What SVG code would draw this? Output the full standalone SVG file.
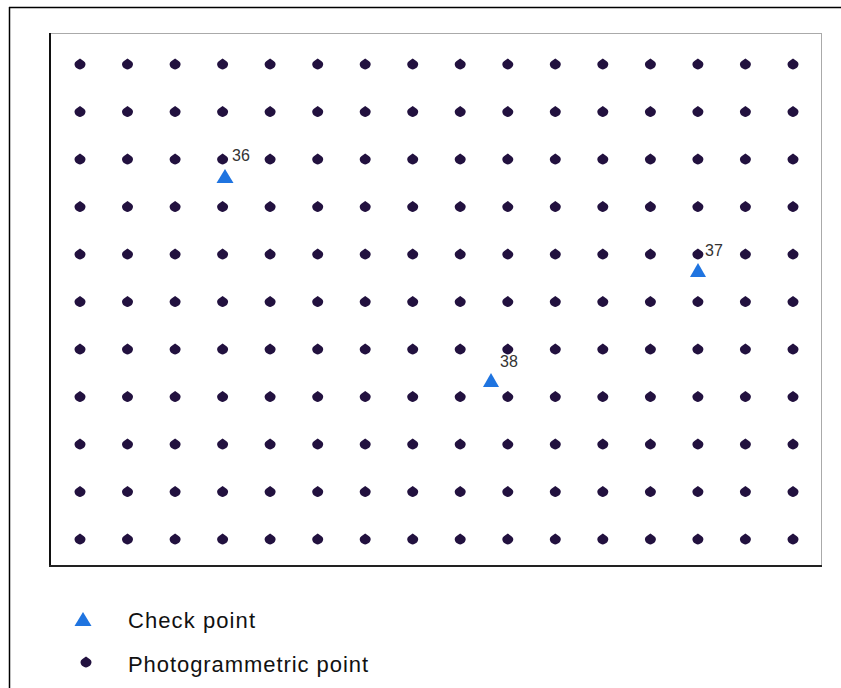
<svg xmlns="http://www.w3.org/2000/svg" width="841" height="688" viewBox="0 0 841 688">
<defs>
<style>
.dot{fill:#22113f}
.tri{fill:#1f74e0}
.lbl{font-family:"Liberation Sans",Arial,sans-serif;font-size:16px;fill:#333}
.leg{font-family:"Liberation Sans",Arial,sans-serif;font-size:22px;fill:#111}
</style>
<path id="d" d="M0,-5.5 C3,-3.5 5.5,-2 5.5,0 C5.5,3 3,5 0,5.5 C-3,5 -5.5,3 -5.5,0 C-5.5,-2 -3,-3.5 0,-5.5Z" class="dot"/>
<g id="row">
<use href="#d" x="80"/><use href="#d" x="127.5"/><use href="#d" x="175.1"/><use href="#d" x="222.6"/>
<use href="#d" x="270.1"/><use href="#d" x="317.7"/><use href="#d" x="365.2"/><use href="#d" x="412.7"/>
<use href="#d" x="460.2"/><use href="#d" x="507.8"/><use href="#d" x="555.3"/><use href="#d" x="602.8"/>
<use href="#d" x="650.4"/><use href="#d" x="697.9"/><use href="#d" x="745.4"/><use href="#d" x="793"/>
</g>
</defs>
<rect width="841" height="688" fill="#fff"/>
<g id="frame">
<line x1="9" y1="7.5" x2="841" y2="7.5" stroke="#000" stroke-width="1.5"/>
<line x1="9.5" y1="7" x2="9.5" y2="688" stroke="#000" stroke-width="1.5"/>
</g>
<g id="plot">
<rect x="49.5" y="33.5" width="772" height="532" fill="#fff" stroke="#aaa" stroke-width="1"/>
<line x1="50" y1="33" x2="50" y2="567" stroke="#111" stroke-width="2"/>
<line x1="49" y1="566" x2="822" y2="566" stroke="#222" stroke-width="2"/>
</g>
<g id="points">
<use href="#row" y="64"/><use href="#row" y="111.5"/><use href="#row" y="159"/><use href="#row" y="206.5"/>
<use href="#row" y="254"/><use href="#row" y="301.5"/><use href="#row" y="349"/><use href="#row" y="396.5"/>
<use href="#row" y="444"/><use href="#row" y="491.5"/><use href="#row" y="539"/>
</g>
<g id="checkpoints">
<g id="cp36"><polygon class="tri" points="225,169 233.5,183 216.5,183"/><text class="lbl" x="232" y="161">36</text></g>
<g id="cp37"><polygon class="tri" points="698,263 706,277 690,277"/><text class="lbl" x="705" y="256">37</text></g>
<g id="cp38"><polygon class="tri" points="491,373 499,387 483,387"/><text class="lbl" x="500" y="367">38</text></g>
</g>
<g id="connectors"/>
<g id="legend">
<g id="leg-check"><polygon class="tri" points="83,612 91.5,626 74.5,626"/><text class="leg" x="128" y="628" textLength="127">Check point</text></g>
<g id="leg-photo"><path class="dot" d="M86,656.5 C89,658.5 91.5,660 91.5,662 C91.5,665 89,667 86,667.5 C83,667 80.5,665 80.5,662 C80.5,660 83,658.5 86,656.5Z"/><text class="leg" x="128" y="672" textLength="240">Photogrammetric point</text></g>
</g>
</svg>
